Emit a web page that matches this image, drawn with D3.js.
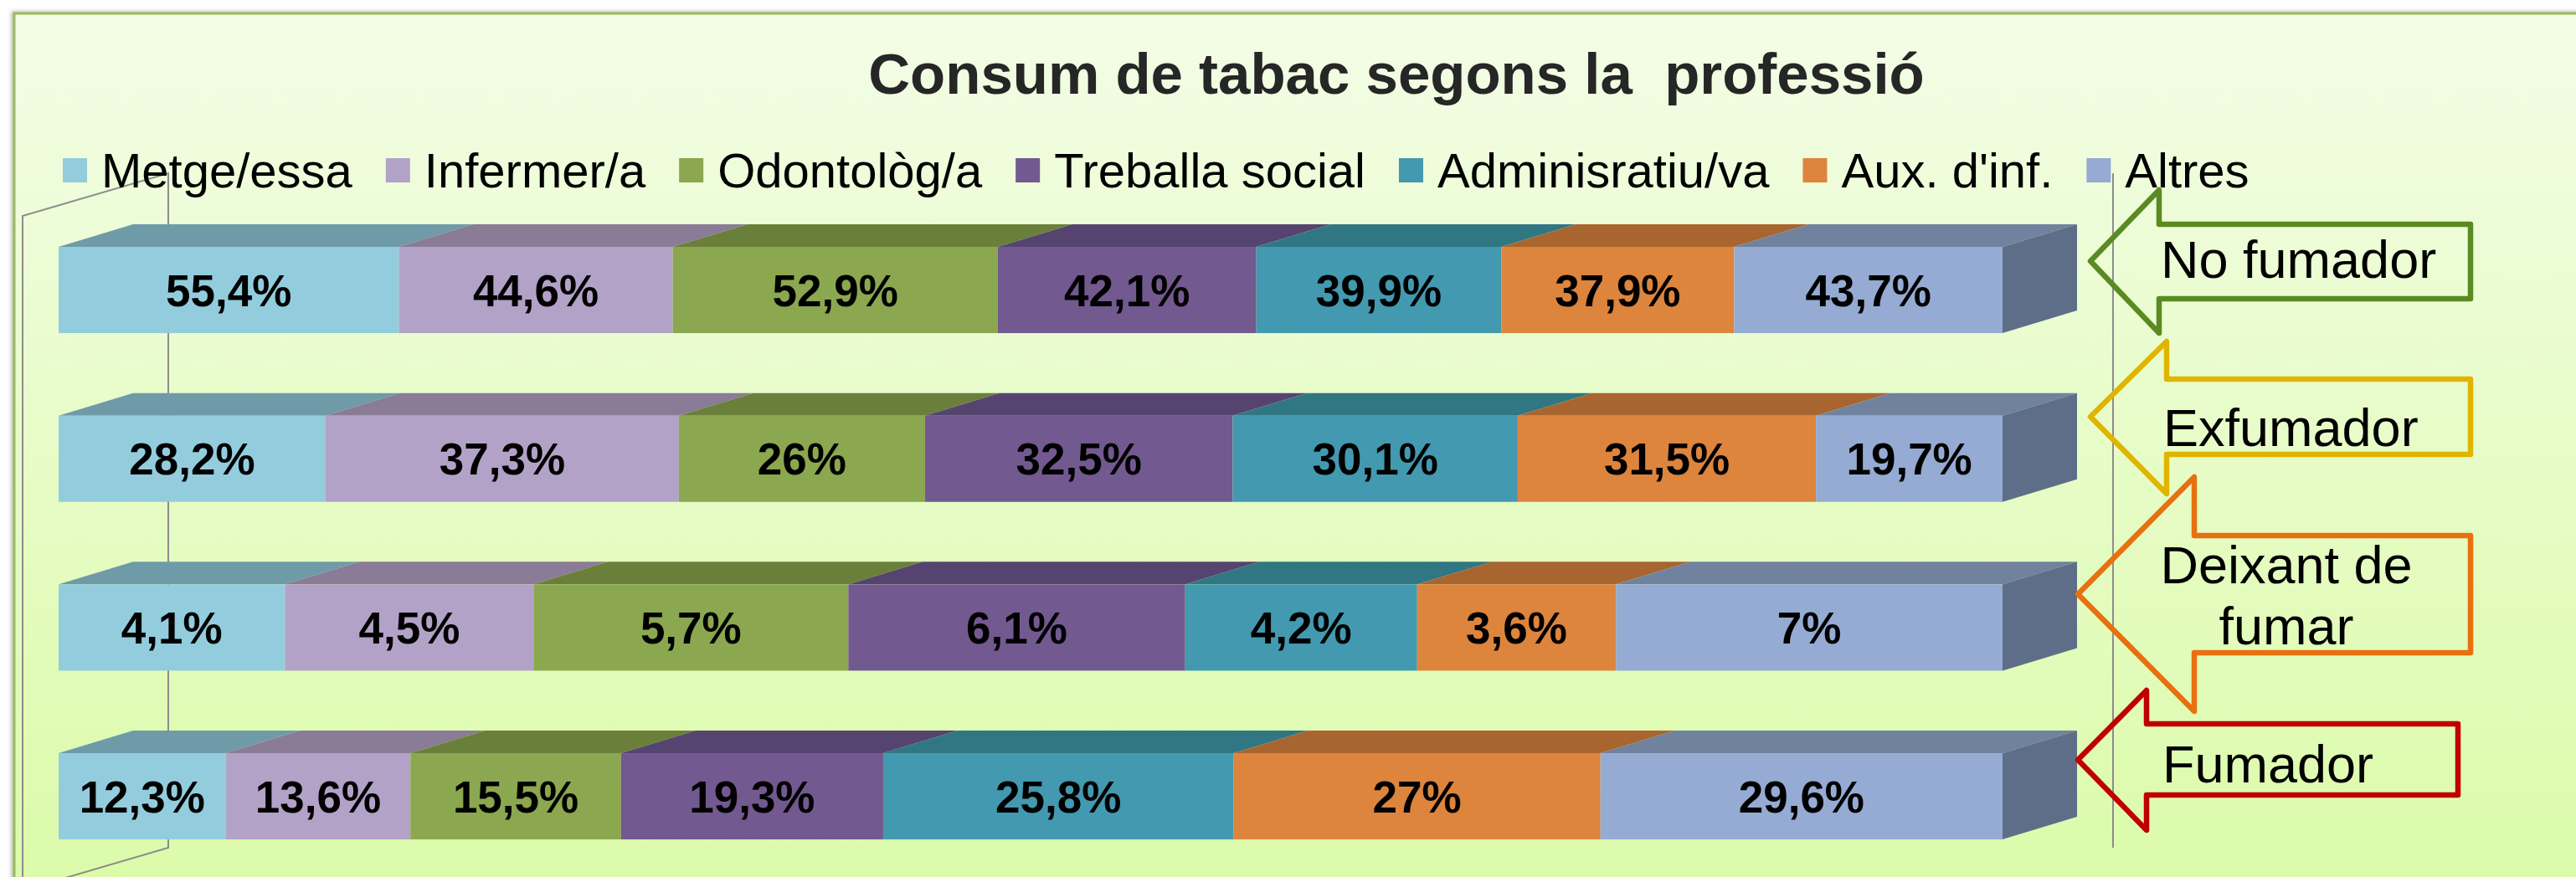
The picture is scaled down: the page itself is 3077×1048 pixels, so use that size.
<!DOCTYPE html>
<html>
<head>
<meta charset="utf-8">
<script src="https://cdn.jsdelivr.net/npm/d3@7"></script>
<style>
  html, body { margin: 0; padding: 0; background: #ffffff; }
  svg { display: block; font-family: "Liberation Sans", Arial, sans-serif; }
</style>
</head>
<body>
<svg id="chart" width="3077" height="1048"></svg>
<script>
// ---------- DATA ----------
const title = "Consum de tabac segons la  professió";
const statuses = ["No fumador", "Exfumador", "Deixant de fumar", "Fumador"];
const professions = ["Metge/essa", "Infermer/a", "Odontològ/a", "Treballa social", "Adminisratiu/va", "Aux. d'inf.", "Altres"];
// values per profession, in the order of `statuses`
const metge    = [55.4, 28.2, 4.1, 12.3];
const infermer = [44.6, 37.3, 4.5, 13.6];
const odonto   = [52.9, 26.0, 5.7, 15.5];
const treball  = [42.1, 32.5, 6.1, 19.3];
const admin    = [39.9, 30.1, 4.2, 25.8];
const aux      = [37.9, 31.5, 3.6, 27.0];
const altres   = [43.7, 19.7, 7.0, 29.6];
const seriesValues = [metge, infermer, odonto, treball, admin, aux, altres];

// ---------- STYLE ----------
const frontColors = ["#93CDDD", "#B3A2C7", "#8BA74F", "#72598F", "#4299B0", "#DD843D", "#95ABD3"];
const topColors   = ["#6F9BA8", "#8A7B96", "#6A803A", "#564470", "#317683", "#A8652F", "#70829E"];
const sideColors  = ["#5A7F8A", "#716480", "#566A30", "#46385C", "#28606B", "#8A5327", "#5F6E88"];

const svg = d3.select("#chart");
const W = 3077, H = 1048;

// background gradient
const defs = svg.append("defs");
const grad = defs.append("linearGradient").attr("id", "bg").attr("x1", 0).attr("y1", 0).attr("x2", 0).attr("y2", 1);
grad.append("stop").attr("offset", "0%").attr("stop-color", "#F3FDE6");
grad.append("stop").attr("offset", "100%").attr("stop-color", "#DAFBA6");
const shadow = defs.append("filter").attr("id", "sh").attr("x", "-5%").attr("y", "-5%").attr("width", "110%").attr("height", "110%");
shadow.append("feDropShadow").attr("dx", -2).attr("dy", -1).attr("stdDeviation", 2).attr("flood-color", "#888").attr("flood-opacity", 0.6);

svg.append("rect")
  .attr("x", 17).attr("y", 16).attr("width", W + 50).attr("height", H + 50)
  .attr("fill", "url(#bg)").attr("stroke", "#9BBB59").attr("stroke-width", 3)
  .attr("filter", "url(#sh)");

// title
svg.append("text")
  .attr("x", 1668).attr("y", 112)
  .attr("text-anchor", "middle")
  .style("white-space", "pre")
  .attr("font-size", 69).attr("font-weight", "bold").attr("fill", "#262626")
  .text(title);

// ---------- SCALES ----------
const x = d3.scaleLinear().domain([0, 100]).range([70, 2392]);
const y = d3.scaleBand().domain(statuses).range([295, 1003.1]).paddingInner(0.489).paddingOuter(0);
const dx = 89, dy = 27;

// ---------- WALL LINES ----------
const wallBackL = x(0) + 131, wallBackR = x(100) + 132, wallFrontL = 27;
const wallTop = 207, wallBottom = 1013;
const wall = svg.append("g").attr("stroke", "#8C8C8C").attr("stroke-width", 2).attr("fill", "none");
wall.append("path").attr("d", `M${wallFrontL},${H + 20} L${wallFrontL},${wallTop + 51} L${wallBackL},${wallTop} L${wallBackL},${wallBottom} L${wallFrontL},${wallBottom + 51}`);
wall.append("line").attr("x1", wallBackR).attr("x2", wallBackR).attr("y1", wallTop).attr("y2", wallBottom);

// ---------- BARS ----------
const rows = statuses.map((s, i) => {
  const vals = seriesValues.map(a => a[i]);
  const total = d3.sum(vals);
  let acc = 0;
  return vals.map((v, j) => {
    const seg = { status: s, j, v, p0: acc / total * 100, p1: (acc + v) / total * 100 };
    acc += v;
    return seg;
  });
});

const barG = svg.append("g");
rows.forEach(segs => {
  const g = barG.append("g");
  const yt = y(segs[0].status), h = y.bandwidth();
  // top faces
  g.selectAll("path.top").data(segs).join("path")
    .attr("class", "top")
    .attr("d", d => `M${x(d.p0)},${yt} L${x(d.p1)},${yt} L${x(d.p1) + dx},${yt - dy} L${x(d.p0) + dx},${yt - dy} Z`)
    .attr("fill", d => topColors[d.j]);
  // side face of last segment
  const last = segs[segs.length - 1];
  g.append("path")
    .attr("d", `M${x(last.p1)},${yt} L${x(last.p1) + dx},${yt - dy} L${x(last.p1) + dx},${yt + h - dy} L${x(last.p1)},${yt + h} Z`)
    .attr("fill", sideColors[last.j]);
  // front faces
  g.selectAll("rect.front").data(segs).join("rect")
    .attr("class", "front")
    .attr("x", d => x(d.p0)).attr("y", yt)
    .attr("width", d => x(d.p1) - x(d.p0)).attr("height", h)
    .attr("fill", d => frontColors[d.j]);
  // labels
  g.selectAll("text.lbl").data(segs).join("text")
    .attr("class", "lbl")
    .attr("x", d => (x(d.p0) + x(d.p1)) / 2)
    .attr("y", yt + h / 2 + 19)
    .attr("text-anchor", "middle")
    .attr("font-size", 53).attr("font-weight", "bold").attr("fill", "#000")
    .text(d => String(d.v).replace(".", ",") + "%");
});

// ---------- LEGEND ----------
const leg = svg.append("g");
let lx = 75;
professions.forEach((p, j) => {
  leg.append("rect").attr("x", lx).attr("y", 189).attr("width", 29).attr("height", 29).attr("fill", frontColors[j]);
  const t = leg.append("text").attr("x", lx + 46).attr("y", 224)
    .attr("font-size", 58).attr("fill", "#000").text(p);
  lx = lx + 46 + t.node().getComputedTextLength() + 40;
});

// ---------- CALLOUT ARROWS ----------
const callouts = [
  { lines: ["No fumador"], color: "#5A8A22", tipX: 2497, tipY: 312, headX: 2579, headTop: 227, headBot: 398, shaftTop: 268, shaftBot: 357, right: 2951, tx: 2581, ty: [332], anchor: "start" },
  { lines: ["Exfumador"], color: "#DFB500", tipX: 2497, tipY: 498, headX: 2588, headTop: 408, headBot: 590, shaftTop: 453, shaftBot: 543, right: 2951, tx: 2584, ty: [533], anchor: "start" },
  { lines: ["Deixant de", "fumar"], color: "#E8700F", tipX: 2482, tipY: 710, headX: 2621, headTop: 570, headBot: 850, shaftTop: 640, shaftBot: 780, right: 2951, tx: 2731, ty: [697, 770], anchor: "middle" },
  { lines: ["Fumador"], color: "#C00000", tipX: 2482, tipY: 908, headX: 2564, headTop: 825, headBot: 992, shaftTop: 865, shaftBot: 950, right: 2936, tx: 2583, ty: [935], anchor: "start" }
];
const cg = svg.append("g");
callouts.forEach(c => {
  cg.append("path")
    .attr("d", `M${c.tipX},${c.tipY} L${c.headX},${c.headTop} L${c.headX},${c.shaftTop} L${c.right},${c.shaftTop} L${c.right},${c.shaftBot} L${c.headX},${c.shaftBot} L${c.headX},${c.headBot} Z`)
    .attr("fill", "none").attr("stroke", c.color).attr("stroke-width", 6.5).attr("stroke-linejoin", "round");
  c.lines.forEach((ln, k) => {
    cg.append("text").attr("x", c.tx).attr("y", c.ty[k]).attr("text-anchor", c.anchor)
      .attr("font-size", 63).attr("fill", "#000").text(ln);
  });
});
</script>
</body>
</html>
